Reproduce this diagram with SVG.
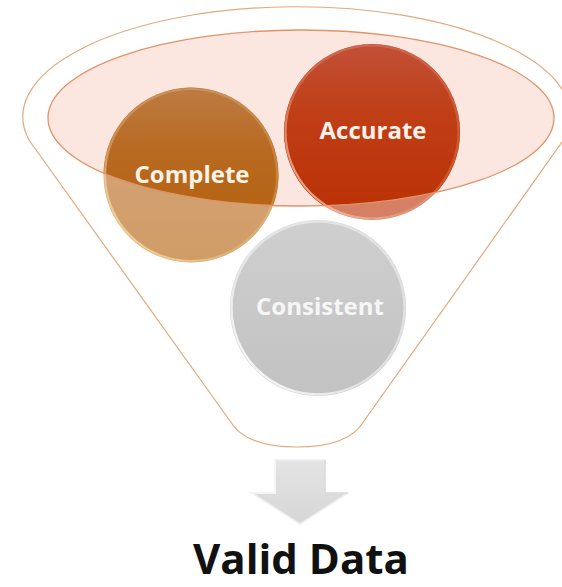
<svg xmlns="http://www.w3.org/2000/svg" width="562" height="587" viewBox="0 0 562 587">
  <style>
    .outline { fill: none; stroke: #e2aa7c; stroke-width: 1.2; }
    .lbl { font-family: "Open Sans", "Liberation Sans", sans-serif; font-weight: bold; font-size: 24px; text-anchor: middle; }
    .big { font-family: "Open Sans", "Liberation Sans", sans-serif; font-weight: bold; font-size: 42px; text-anchor: middle; fill: #111111; }
  </style>
  <defs>
    <clipPath id="topClip">
      <ellipse cx="301" cy="118" rx="253" ry="88"/>
    </clipPath>
    <linearGradient id="gComplete" x1="0" y1="0" x2="0" y2="1">
      <stop offset="0" stop-color="#bd7c43"/>
      <stop offset="0.35" stop-color="#b86a22"/>
      <stop offset="1" stop-color="#b45f08"/>
    </linearGradient>
    <linearGradient id="gAccurate" x1="0" y1="0" x2="0" y2="1">
      <stop offset="0" stop-color="#c25038"/>
      <stop offset="0.4" stop-color="#c03e16"/>
      <stop offset="1" stop-color="#bb3004"/>
    </linearGradient>
    <linearGradient id="gConsistent" x1="0" y1="0" x2="0" y2="1">
      <stop offset="0" stop-color="#cfcfcf"/>
      <stop offset="1" stop-color="#c2c2c2"/>
    </linearGradient>
    <linearGradient id="rimC" x1="1" y1="0" x2="0" y2="1">
      <stop offset="0" stop-color="#f7d9a0" stop-opacity="0.2"/>
      <stop offset="0.6" stop-color="#f7d9a0" stop-opacity="0.3"/>
      <stop offset="1" stop-color="#fbe3a6" stop-opacity="1"/>
    </linearGradient>
    <linearGradient id="rimA" x1="1" y1="0" x2="0" y2="1">
      <stop offset="0" stop-color="#f5b59a" stop-opacity="0.2"/>
      <stop offset="0.6" stop-color="#f5b59a" stop-opacity="0.3"/>
      <stop offset="1" stop-color="#fbd0bb" stop-opacity="1"/>
    </linearGradient>
    <linearGradient id="rimG" x1="1" y1="0" x2="0" y2="1">
      <stop offset="0" stop-color="#ffffff" stop-opacity="0.4"/>
      <stop offset="0.6" stop-color="#ffffff" stop-opacity="0.5"/>
      <stop offset="1" stop-color="#ffffff" stop-opacity="1"/>
    </linearGradient>
    <linearGradient id="gArrow" x1="0" y1="0" x2="0" y2="1">
      <stop offset="0" stop-color="#e4e4e4"/>
      <stop offset="1" stop-color="#d6d6d6"/>
    </linearGradient>
  </defs>

  <rect width="562" height="587" fill="#ffffff"/>

  <g id="funnel">
    <path class="outline" d="M 29 140 A 274 110 0 1 1 567 135 L 364 421 Q 349 447 297 447 Q 245 447 230 421 Z"/>
    <ellipse cx="301" cy="118" rx="253" ry="88" fill="#fbe7e0"/>
  </g>

  <g id="complete">
    <circle cx="191" cy="175" r="87.5" fill="url(#gComplete)" opacity="0.62"/>
    <circle cx="191" cy="175" r="87.5" fill="url(#gComplete)" clip-path="url(#topClip)"/>
    <circle cx="191" cy="175" r="86" fill="none" stroke="url(#rimC)" stroke-width="2.2"/>
    <text class="lbl" x="192" y="183" fill="#fbf3e6">Complete</text>
  </g>

  <g id="accurate">
    <circle cx="372" cy="132" r="88" fill="url(#gAccurate)" opacity="0.62"/>
    <circle cx="372" cy="132" r="88" fill="url(#gAccurate)" clip-path="url(#topClip)"/>
    <circle cx="372" cy="132" r="86.5" fill="none" stroke="url(#rimA)" stroke-width="2.2"/>
    <text class="lbl" x="373" y="139" fill="#fbf1ea">Accurate</text>
  </g>

  <g id="consistent">
    <circle cx="318" cy="308" r="88" fill="url(#gConsistent)"/>
    <circle cx="318" cy="308" r="86.5" fill="none" stroke="url(#rimG)" stroke-width="2.4"/>
    <text class="lbl" x="320" y="315" fill="#f6f6f6">Consistent</text>
  </g>

  <g id="funnel-rim">
    <ellipse cx="301" cy="118" rx="253" ry="88" fill="none" stroke="#e09468" stroke-width="1.3"/>
  </g>

  <g id="connectors">
    <polygon points="275,460 325,460 325,493 348,493 300,524 252,493 275,493" fill="url(#gArrow)" stroke="#efefef" stroke-width="1.5" stroke-linejoin="miter"/>
    <polyline points="252,493 275,493 275,460" fill="none" stroke="#f4f4f4" stroke-width="2"/>
    <polyline points="325,460 325,493 348,493" fill="none" stroke="#cfcfcf" stroke-width="1"/>
  </g>

  <g id="valid-data">
    <text class="big" x="301" y="574">Valid Data</text>
  </g>
</svg>
